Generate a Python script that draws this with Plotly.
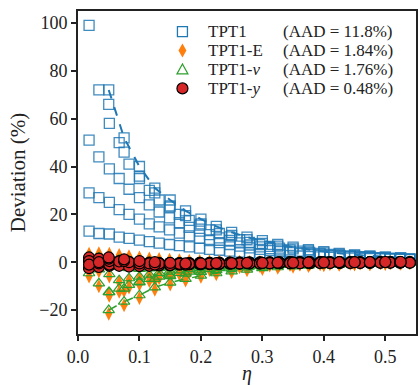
import plotly.graph_objects as go

# ---------------- data ----------------
eta_A = [0.018, 0.034, 0.051, 0.067, 0.083, 0.100, 0.116, 0.132, 0.149, 0.165, 0.181,
         0.198, 0.214, 0.230, 0.247, 0.263, 0.279, 0.296, 0.312, 0.328, 0.345, 0.361,
         0.377, 0.394, 0.410, 0.426, 0.443, 0.459, 0.475, 0.492, 0.508, 0.524, 0.540]
eta_B = [0.050, 0.075, 0.100, 0.125, 0.150, 0.175, 0.200, 0.225, 0.250, 0.275,
         0.300, 0.325, 0.350, 0.375, 0.400, 0.425, 0.450, 0.475, 0.500, 0.525]

# TPT1 (squares)
tpt1_A1 = [99, 72, 58, 50, 41, 35, 30, 26, 23, 20, 17.5, 15.5, 13.5, 12, 10.6, 9.4, 8.3, 7.4, 6.6, 5.9, 5.2, 4.6, 4.1, 3.7, 3.3, 2.9, 2.6, 2.3, 2.1, 1.9, 1.7, 1.5, 1.4]
tpt1_A2 = [51, 44, 39, 35, 30.5, 27, 24, 21, 18.5, 16.5, 14.6, 13, 11.5, 10.2, 9.1, 8.1, 7.2, 6.4, 5.7, 5.1, 4.5, 4, 3.6, 3.2, 2.9, 2.6, 2.3, 2.1, 1.9, 1.7, 1.5, 1.4, 1.3]
tpt1_A3 = [29, 27, 25, 22, 20, 18, 16, 14.8, 13.5, 12.2, 11, 10, 9, 8.2, 7.4, 6.7, 6, 5.4, 4.9, 4.4, 4, 3.6, 3.2, 2.9, 2.6, 2.4, 2.2, 2, 1.8, 1.6, 1.5, 1.4, 1.3]
tpt1_A4 = [13, 12, 11.8, 10.5, 10, 9.2, 8.6, 8, 7.4, 6.9, 6.4, 5.9, 5.4, 5, 4.6, 4.2, 3.9, 3.6, 3.3, 3, 2.8, 2.6, 2.4, 2.2, 2, 1.8, 1.7, 1.6, 1.5, 1.4, 1.3, 1.2, 1.1]
tpt1_B1 = [72, 52, 40, 31, 26, 21.5, 18, 15, 12.5, 10.5, 9, 7.5, 6.3, 5.3, 4.4, 3.7, 3.1, 2.6, 2.2, 1.9]
tpt1_B2 = [66, 46, 36, 29, 23.5, 19.5, 16, 13.5, 11.2, 9.4, 7.9, 6.7, 5.6, 4.7, 3.9, 3.3, 2.8, 2.3, 1.9, 1.6]

# TPT1-E (diamonds)
tpt1e_A1 = [-6, -10, -14, -12.3, -10.6, -9.1, -7.8, -6.7, -5.8, -5, -4.3, -3.7, -3.2, -2.8, -2.4, -2.1, -1.8, -1.6, -1.4, -1.2, -1.1, -1, -0.9, -0.8, -0.7, -0.6, -0.6, -0.5, -0.5, -0.4, -0.4, -0.3, -0.3]
tpt1e_A2 = [-2.5, -3.8, -6, -8.3, -7.4, -6.6, -5.8, -5, -4.3, -3.7, -3.2, -2.8, -2.4, -2.1, -1.8, -1.6, -1.4, -1.2, -1.1, -1, -0.9, -0.8, -0.7, -0.6, -0.5, -0.5, -0.4, -0.4, -0.3, -0.3, -0.3, -0.2, -0.2]
tpt1e_A3 = [2.5, 2, 1, 0, -1, -1.6, -1.8, -1.8, -1.7, -1.6, -1.5, -1.3, -1.2, -1.1, -1, -0.9, -0.8, -0.7, -0.6, -0.5, -0.5, -0.4, -0.4, -0.3, -0.3, -0.3, -0.2, -0.2, -0.2, -0.2, -0.1, -0.1, -0.1]
tpt1e_A4 = [3.5, 3.8, 3.5, 3, 2.5, 2, 1.6, 1.3, 1, 0.8, 0.6, 0.5, 0.4, 0.3, 0.2, 0.2, 0.1, 0.1, 0, 0, 0, 0, 0, 0, 0, 0, 0, 0, 0, 0, 0, 0, 0]
tpt1e_B1 = [-21.5, -18, -15, -11.5, -9.3, -7.6, -6.1, -5, -4.1, -3.4, -2.8, -2.3, -1.9, -1.6, -1.3, -1.1, -0.9, -0.8, -0.7, -0.6]
tpt1e_B2 = [-13.5, -12, -9.2, -7.6, -6.3, -5.2, -4.3, -3.5, -2.9, -2.4, -2, -1.6, -1.3, -1.1, -0.9, -0.8, -0.7, -0.6, -0.5, -0.4]

# TPT1-v (triangles)
tpt1v_A1 = [-4.6, -8.8, -12.5, -11, -9.5, -8.2, -7, -6, -5.2, -4.5, -3.9, -3.4, -2.9, -2.5, -2.2, -1.9, -1.6, -1.4, -1.2, -1.1, -1, -0.9, -0.8, -0.7, -0.6, -0.5, -0.5, -0.4, -0.4, -0.3, -0.3, -0.3, -0.2]
tpt1v_A2 = [-2, -3, -5, -7.5, -6.7, -6, -5.2, -4.5, -3.9, -3.4, -2.9, -2.5, -2.2, -1.9, -1.6, -1.4, -1.2, -1.1, -1, -0.9, -0.8, -0.7, -0.6, -0.5, -0.5, -0.4, -0.4, -0.3, -0.3, -0.3, -0.2, -0.2, -0.2]
tpt1v_A3 = [1, 0, -1, -1.8, -2.5, -2.8, -2.6, -2.4, -2.2, -2, -1.8, -1.6, -1.4, -1.2, -1.1, -1, -0.9, -0.8, -0.7, -0.6, -0.5, -0.5, -0.4, -0.4, -0.3, -0.3, -0.3, -0.2, -0.2, -0.2, -0.2, -0.1, -0.1]
tpt1v_A4 = [2, 2, 1.5, 1, 0.5, 0.2, 0, -0.2, -0.3, -0.4, -0.4, -0.5, -0.5, -0.5, -0.5, -0.4, -0.4, -0.4, -0.3, -0.3, -0.3, -0.3, -0.2, -0.2, -0.2, -0.2, -0.2, -0.1, -0.1, -0.1, -0.1, -0.1, -0.1]
tpt1v_B1 = [-20, -16.5, -13.8, -10.5, -8.5, -7, -5.6, -4.6, -3.8, -3.1, -2.5, -2.1, -1.7, -1.4, -1.2, -1, -0.8, -0.7, -0.6, -0.5]
tpt1v_B2 = [-12.5, -11, -8.4, -7, -5.8, -4.8, -4, -3.3, -2.7, -2.2, -1.8, -1.5, -1.2, -1, -0.8, -0.7, -0.6, -0.5, -0.4, -0.3]

# TPT1-y (circles)
tpt1y_A1 = [2, 1.5, 1, 0.5, 0.2, 0, -0.2, -0.3, -0.4, -0.4, -0.4, -0.3, -0.3, -0.3, -0.2, -0.2, -0.2, -0.1, -0.1, -0.1, 0, 0, 0, 0, 0, 0, 0, 0, 0, 0, 0, 0, 0]
tpt1y_A2 = [-2.5, -2, -1.5, -1.2, -1, -0.8, -0.7, -0.6, -0.5, -0.4, -0.4, -0.3, -0.3, -0.2, -0.2, -0.2, -0.1, -0.1, -0.1, -0.1, 0, 0, 0, 0, 0, 0, 0, 0, 0, 0, 0, 0, 0]
tpt1y_A3 = [0.5, -0.5, -1, -1.5, -1.8, -1.6, -1.5, -1.3, -1.2, -1, -0.9, -0.8, -0.8, -0.7, -0.6, -0.6, -0.5, -0.5, -0.5, -0.4, -0.4, -0.4, -0.4, -0.3, -0.3, -0.3, -0.3, -0.3, -0.2, -0.2, -0.2, -0.2, -0.2]
tpt1y_A4 = [-1, 0, 0.5, 0.3, 0, -0.3, -0.5, -0.6, -0.7, -0.7, -0.7, -0.6, -0.6, -0.6, -0.5, -0.5, -0.5, -0.5, -0.4, -0.4, -0.4, -0.4, -0.4, -0.3, -0.3, -0.3, -0.3, -0.3, -0.3, -0.2, -0.2, -0.2, -0.2]
tpt1y_B1 = [1.5, 0.5, -0.5, -1, -1.2, -1, -0.8, -0.6, -0.5, -0.4, -0.3, -0.3, -0.2, -0.2, -0.1, -0.1, 0, 0, 0, 0]
tpt1y_B2 = [2, 1.2, 0.5, 0, -0.3, -0.5, -0.5, -0.4, -0.4, -0.3, -0.3, -0.2, -0.2, -0.1, -0.1, 0, 0, 0, 0.1, 0.1]

legend_names = ["TPT1", "TPT1-E", "TPT1-<i>v</i>", "TPT1-<i>y</i>"]
aad_labels = ["(AAD = 11.8%)", "(AAD = 1.84%)", "(AAD = 1.76%)", "(AAD = 0.48%)"]
x_ticks = [0.0, 0.1, 0.2, 0.3, 0.4, 0.5]
y_ticks = [-20, 0, 20, 40, 60, 80, 100]

# --------------- assemble ---------------
def combine(a_lists, b_lists):
    xs, ys = [], []
    for s in a_lists:
        xs += eta_A
        ys += s
    for s in b_lists:
        xs += eta_B
        ys += s
    return xs, ys

methods = [
    ([tpt1_A1, tpt1_A2, tpt1_A3, tpt1_A4], [tpt1_B1, tpt1_B2]),
    ([tpt1e_A1, tpt1e_A2, tpt1e_A3, tpt1e_A4], [tpt1e_B1, tpt1e_B2]),
    ([tpt1v_A1, tpt1v_A2, tpt1v_A3, tpt1v_A4], [tpt1v_B1, tpt1v_B2]),
    ([tpt1y_A1, tpt1y_A2, tpt1y_A3, tpt1y_A4], [tpt1y_B1, tpt1y_B2]),
]

BLUE, ORANGE, GREEN, RED = "#1f77b4", "#ff7f0e", "#2ca02c", "#d62728"
markers = [
    dict(symbol="square-open", size=10, color=BLUE, opacity=0.85, line=dict(width=1.3, color=BLUE)),
    dict(symbol="diamond-tall", size=10, color=ORANGE, line=dict(width=0)),
    dict(symbol="triangle-up-open", size=10, color=GREEN, line=dict(width=1.2, color=GREEN)),
    dict(symbol="circle", size=11, color=RED, line=dict(width=1.2, color="black")),
]

fig = go.Figure()
for i, (a, b) in enumerate(methods):
    xs, ys = combine(a, b)
    fig.add_trace(go.Scatter(x=xs, y=ys, mode="markers", name=legend_names[i],
                             marker=markers[i], showlegend=False))
    if i == 0:
        fig.add_trace(go.Scatter(x=eta_B, y=tpt1_B1, mode="lines", showlegend=False,
                                 line=dict(color=BLUE, width=2, dash="dash")))
    if i == 2:
        fig.add_trace(go.Scatter(x=eta_B, y=tpt1v_B1, mode="lines", showlegend=False,
                                 line=dict(color=GREEN, width=1.5, dash="dash")))

FONT = "Liberation Serif"
axis_common = dict(showline=True, mirror=True, linecolor="#222", linewidth=2,
                   ticks="outside", ticklen=5, tickwidth=1.8, tickcolor="#222",
                   showgrid=False, zeroline=False,
                   tickfont=dict(family=FONT, size=18, color="#222"))

fig.update_layout(
    width=420, height=385,
    margin=dict(l=78, r=2, t=11, b=51),
    paper_bgcolor="white", plot_bgcolor="white",
    font=dict(family=FONT, color="#222"),
    showlegend=False,
    xaxis=dict(range=[0, 0.55], tickvals=x_ticks, tickformat=".1f",
               title=dict(text="<i>η</i>", font=dict(family=FONT, size=20), standoff=2),
               **axis_common),
    yaxis=dict(range=[-30, 105], tickvals=y_ticks,
               title=dict(text="Deviation (%)", font=dict(family=FONT, size=21), standoff=8),
               **axis_common),
)

# --------------- hand-built legend (tight rows as in the reference) ---------------
row_y = [0.936, 0.8775, 0.819, 0.7604]
sym_x = 0.309
name_x = 0.382
aad_x = 0.603
sym_shapes = [
    dict(type="rect", x0=-5, x1=5, y0=-5, y1=5, line=dict(color=BLUE, width=1.3), fillcolor="rgba(0,0,0,0)"),
    dict(type="path", path="M 0,7 L 4,0 L 0,-7 L -4,0 Z", line=dict(width=0), fillcolor=ORANGE),
    dict(type="path", path="M -5.5,-4.5 L 5.5,-4.5 L 0,5.5 Z", line=dict(color=GREEN, width=1.2), fillcolor="rgba(0,0,0,0)"),
    dict(type="circle", x0=-5.5, x1=5.5, y0=-5.5, y1=5.5, line=dict(color="black", width=1.2), fillcolor=RED),
]
for yy, shp in zip(row_y, sym_shapes):
    fig.add_shape(xref="paper", yref="paper", xsizemode="pixel", ysizemode="pixel",
                  xanchor=sym_x, yanchor=yy, layer="above", **shp)

for name, lab, yy in zip(legend_names, aad_labels, row_y):
    fig.add_annotation(x=name_x, y=yy, xref="paper", yref="paper", text=name,
                       showarrow=False, xanchor="left", yanchor="middle", borderpad=0,
                       font=dict(family=FONT, size=17, color="#222"))
    fig.add_annotation(x=aad_x, y=yy, xref="paper", yref="paper", text=lab,
                       showarrow=False, xanchor="left", yanchor="middle", borderpad=0,
                       font=dict(family=FONT, size=17, color="#222"))

fig.write_html("out.html", post_script="document.body.style.margin='0';",
               config={"displayModeBar": False})
